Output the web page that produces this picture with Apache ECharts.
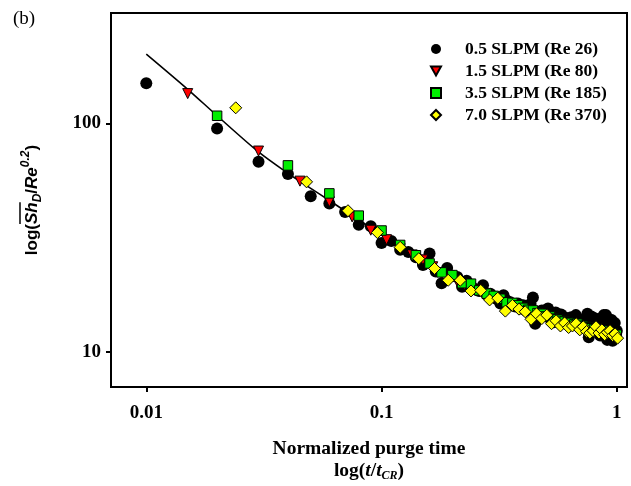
<!DOCTYPE html>
<html>
<head>
<meta charset="utf-8">
<script src="https://cdn.jsdelivr.net/npm/echarts@6/dist/echarts.min.js"></script>
<style>html,body{margin:0;padding:0;background:#fff;}#c{width:631px;height:486px;}</style>
</head>
<body>
<div id="c"></div>
<script>
// ---- data ----
const seriesNames = ['0.5 SLPM (Re 26)', '1.5 SLPM (Re 80)', '3.5 SLPM (Re 185)', '7.0 SLPM (Re 370)'];
const xTickValues = [0.01, 0.1, 1];
const xTickLabels = ['0.01', '0.1', '1'];
const yTickValues = [10, 100];
const yTickLabels = ['10', '100'];

const circX = [0.01,0.02,0.03,0.04,0.05,0.06,0.07,0.08,0.09,0.10,0.11,0.12,0.13,0.14,0.15,0.16,0.17,0.18,0.19,0.20,0.21,0.22,0.23,0.24,0.25,0.26,0.27,0.28,0.29,0.30,0.31,0.32,0.33,0.34,0.35,0.36,0.37,0.38,0.39,0.40,0.41,0.42,0.43,0.44,0.45,0.46,0.47,0.48,0.49,0.50,0.51,0.52,0.53,0.54,0.55,0.56,0.57,0.58,0.59,0.60,0.61,0.62,0.63,0.64,0.65,0.66,0.67,0.68,0.69,0.70,0.71,0.72,0.73,0.74,0.75,0.76,0.77,0.78,0.79,0.80,0.81,0.82,0.83,0.84,0.85,0.86,0.87,0.88,0.89,0.90,0.91,0.92,0.93,0.94,0.95,0.96,0.97,0.98,0.99,1.00];
const circY = [150,95,68,60,48,44.6,41,36,35.5,30,30.6,28,27.4,26,24,27,22.5,20,23.3,21.5,21.3,19.3,20.5,19.5,18.8,18.5,19.6,17.8,18,17.5,17.0,16.3,17.7,16.8,16.5,16.3,15.8,16.3,15.5,16.0,15.2,15.6,16.2,17.3,13.3,15.0,14.6,15.2,14.4,15.0,15.5,14.0,14.8,13.5,14.9,14.5,13.8,14.6,13.5,14.2,13.8,13.4,14.0,14.2,13.2,13.9,14.5,13.6,13.0,13.8,13.5,12.8,13.6,14.0,14.7,11.6,13.2,14.3,12.5,13.5,14.0,12.4,13.0,13.6,11.8,14.0,12.9,14.5,13.3,14.5,11.3,13.0,12.6,13.8,13.8,11.2,12.4,13.4,11.8,12.4];

const triX = [0.015,0.030,0.045,0.060,0.075,0.090,0.105,0.120,0.135,0.150,0.165,0.180,0.195,0.210,0.225,0.240,0.255,0.270,0.285,0.300,0.315,0.330,0.345,0.360,0.375,0.390,0.405,0.420,0.435,0.450,0.465,0.480,0.495,0.510,0.525,0.540,0.555,0.570,0.585,0.600,0.615,0.630,0.645,0.660,0.675,0.690,0.705,0.720,0.735,0.750,0.765,0.780,0.795,0.810,0.825,0.840,0.855,0.870,0.885,0.900,0.915,0.930,0.945,0.960,0.975,0.990];
const triY = [135,75.7,55.9,45.4,39.0,34.1,31.0,28.3,26.6,25.3,23.6,22.0,21.0,20.3,19.6,19.0,18.7,18.0,17.7,17.2,17.0,16.6,16.5,16.0,15.9,15.6,15.5,15.2,15.1,14.8,14.8,14.5,14.4,14.2,14.2,13.9,13.9,13.7,13.7,13.5,13.5,13.3,13.3,13.1,13.1,12.9,13.0,12.8,12.9,12.7,12.7,12.5,12.6,12.4,12.5,12.3,12.4,12.2,12.3,12.1,12.2,12.0,12.1,11.9,12.0,11.8];

const sqX = [0.02,0.04,0.06,0.08,0.10,0.12,0.14,0.16,0.18,0.20,0.22,0.24,0.26,0.28,0.30,0.32,0.34,0.36,0.38,0.40,0.42,0.44,0.46,0.48,0.50,0.52,0.54,0.56,0.58,0.60,0.62,0.64,0.66,0.68,0.70,0.72,0.74,0.76,0.78,0.80,0.82,0.84,0.86,0.88,0.90,0.92,0.94,0.96,0.98,1.00];
const sqY = [108,65.5,49.4,39.5,34.0,29.4,26.5,24.4,22.3,21.7,20.0,19.9,18.6,18.0,17.6,17.1,16.5,16.4,16.0,15.6,15.3,15.2,14.8,14.7,14.3,14.3,14.0,13.9,13.7,13.6,13.5,13.4,13.2,13.3,13.0,13.0,12.8,12.8,12.7,12.6,12.5,12.5,12.3,12.4,12.2,12.2,12.0,12.1,11.9,11.9];

const diaX = [0.024,0.048,0.072,0.096,0.120,0.144,0.168,0.192,0.216,0.240,0.264,0.288,0.312,0.336,0.360,0.384,0.408,0.432,0.456,0.480,0.504,0.528,0.552,0.576,0.600,0.624,0.648,0.672,0.696,0.720,0.744,0.768,0.792,0.816,0.840,0.864,0.888,0.912,0.936,0.960,0.984,1.008];
const diaY = [117,55.5,41.5,33.3,28.7,25.6,23.2,20.6,20.6,18.5,18.6,16.9,17.2,15.1,16.0,15.4,15.0,13.9,14.7,14.0,14.5,13.3,13.7,13.0,13.4,12.8,13.0,13.3,12.5,12.9,12.3,12.1,12.4,12.9,12.1,12.5,11.9,12.2,12.4,11.8,12.0,11.5];

const fitX = [0.01,0.015,0.02,0.03,0.04,0.05,0.06,0.08,0.1,0.15,0.2,0.3,0.4,0.5,0.6,0.7,0.8,0.9,1.0];
const fitY = [201,141,108,75,60.5,52,46,37.8,32.6,25.5,21.6,17.7,15.7,14.5,13.7,13.1,12.6,12.2,11.9];

// ---- build ----
const zip = (xs, ys) => xs.map((x, i) => [x, ys[i]]);
const serif = '"Liberation Serif", "Times New Roman", serif';
const sans = '"Liberation Sans", Arial, sans-serif';

function fmt(vals, labels) {
  return function (v) {
    for (let i = 0; i < vals.length; i++) {
      if (Math.abs(Math.log10(v) - Math.log10(vals[i])) < 1e-6) return labels[i];
    }
    return '';
  };
}

// measure for the overline in the y-axis title
const cv = document.createElement('canvas').getContext('2d');
function tw(font, s) { cv.font = font; return cv.measureText(s).width; }
const YF = 17, YS = 12;
const wLog = tw('bold ' + YF + 'px ' + sans, 'log(');
const wSh = tw('italic bold ' + YF + 'px ' + sans, 'Sh');
const wD = tw('italic bold ' + YS + 'px ' + sans, 'D');
const wSl = tw('bold ' + YF + 'px ' + sans, '/');
const wRe = tw('italic bold ' + YF + 'px ' + sans, 'Re');
const wSup = tw('italic bold ' + YS + 'px ' + sans, '0.2');
const wCl = tw('bold ' + YF + 'px ' + sans, ')');
const wTot = wLog + wSh + wD + wSl + wRe + wSup + wCl;
const olStart = -wTot / 2 + wLog;

const chart = echarts.init(document.getElementById('c'), null, {renderer: 'canvas'});
const markerBorder = {borderColor: '#000', borderWidth: 1, opacity: 1};

chart.setOption({
  animation: false,
  backgroundColor: '#fff',
  grid: {left: 111, top: 13, right: 4, bottom: 99, outerBoundsMode: 'none', containLabel: false, show: true, borderColor: '#000', borderWidth: 2, backgroundColor: 'transparent'},
  legend: {
    orient: 'vertical', left: 425, top: 35,
    itemWidth: 10, itemHeight: 10, itemGap: 4,
    data: [
      {name: seriesNames[0]},
      {name: seriesNames[1], icon: 'path://M0,0 L10,0 L5,9 Z'},
      {name: seriesNames[2]},
      {name: seriesNames[3]}
    ],
    textStyle: {fontFamily: serif, fontWeight: 'bold', fontSize: 17.5, color: '#000', padding: [0, 0, 0, 19]}
  },
  xAxis: {
    type: 'log', logBase: 10, min: 0.00708, max: 1.105,
    axisLine: {show: true, lineStyle: {color: '#000', width: 2}},
    axisTick: {show: true, length: 5, lineStyle: {color: '#000', width: 2}, customValues: xTickValues},
    axisLabel: {margin: 17, fontFamily: serif, fontWeight: 'bold', fontSize: 19, color: '#000', formatter: fmt(xTickValues, xTickLabels), customValues: xTickValues},
    splitLine: {show: false}, minorTick: {show: false},
    name: '{a|Normalized purge time}\n{b|log(}{i|t}{b|/}{i|t}{s|CR}{b|)}',
    nameLocation: 'middle', nameGap: 51,
    nameTextStyle: {
      rich: {
        a: {fontFamily: serif, fontWeight: 'bold', fontSize: 19.5, color: '#000', lineHeight: 22},
        b: {fontFamily: serif, fontWeight: 'bold', fontSize: 19.5, color: '#000', lineHeight: 22},
        i: {fontFamily: serif, fontWeight: 'bold', fontStyle: 'italic', fontSize: 19.5, color: '#000', lineHeight: 22},
        s: {fontFamily: serif, fontWeight: 'bold', fontStyle: 'italic', fontSize: 12, color: '#000', lineHeight: 12, verticalAlign: 'bottom'}
      }
    }
  },
  yAxis: {
    type: 'log', logBase: 10, min: 7.03, max: 304,
    axisLine: {show: true, lineStyle: {color: '#000', width: 2}},
    axisTick: {show: true, length: 5, lineStyle: {color: '#000', width: 2}, customValues: yTickValues},
    axisLabel: {margin: 10, fontFamily: serif, fontWeight: 'bold', fontSize: 19, color: '#000', formatter: fmt(yTickValues, yTickLabels), customValues: yTickValues},
    splitLine: {show: false}, minorTick: {show: false}
  },
  graphic: [
    {type: 'text', left: 13, top: 10, style: {text: '(b)', fontFamily: serif, fontSize: 19, fill: '#000'}},
    {
      type: 'group', x: 32, y: 200, rotation: Math.PI / 2,
      children: [
        {type: 'text', x: 0, y: 0, style: {
          text: '{n|log(}{i|Sh}{sb|D}{n|/}{i|Re}{sp|0.2}{n|)}',
          align: 'center', verticalAlign: 'middle',
          rich: {
            n: {fontFamily: sans, fontWeight: 'bold', fontSize: YF, fill: '#000', lineHeight: 24},
            i: {fontFamily: sans, fontWeight: 'bold', fontStyle: 'italic', fontSize: YF, fill: '#000', lineHeight: 24},
            sb: {fontFamily: sans, fontWeight: 'bold', fontStyle: 'italic', fontSize: YS, fill: '#000', lineHeight: 12, verticalAlign: 'bottom'},
            sp: {fontFamily: sans, fontWeight: 'bold', fontStyle: 'italic', fontSize: YS, fill: '#000', lineHeight: 12, verticalAlign: 'top'}
          }
        }},
        {type: 'line', shape: {x1: olStart, y1: -12, x2: olStart + wSh, y2: -12}, style: {stroke: '#000', lineWidth: 1.5}}
      ]
    }
  ],
  series: [
    {type: 'line', data: zip(fitX, fitY), showSymbol: false, smooth: 0.3, lineStyle: {color: '#000', width: 1.6}, z: 1, silent: true},
    {name: seriesNames[0], type: 'scatter', data: zip(circX, circY), symbol: 'circle', symbolSize: 12, itemStyle: {color: '#000', opacity: 1}, z: 2},
    {name: seriesNames[1], type: 'scatter', data: zip(triX, triY), symbol: 'triangle', symbolRotate: 180, symbolSize: 10, itemStyle: Object.assign({color: '#ff0000'}, markerBorder), z: 3},
    {name: seriesNames[2], type: 'scatter', data: zip(sqX, sqY), symbol: 'rect', symbolSize: 9.5, itemStyle: Object.assign({color: '#00ee00'}, markerBorder), z: 4},
    {name: seriesNames[3], type: 'scatter', data: zip(diaX, diaY), symbol: 'diamond', symbolSize: 12, itemStyle: Object.assign({color: '#ffff00'}, markerBorder), z: 5}
  ]
});
</script>
</body>
</html>
